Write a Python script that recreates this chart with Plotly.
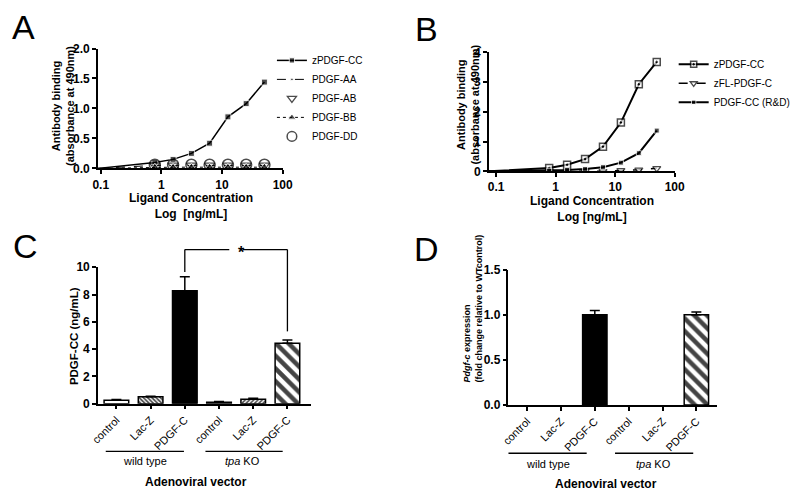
import plotly.graph_objects as go

# ---------------- data ----------------
conc = [0.09, 0.78, 1.56, 3.125, 6.25, 12.5, 25, 50]
conc_b = [0.076, 0.78, 1.56, 3.125, 6.25, 12.5, 25, 50]

a_names = ["zPDGF-CC", "PDGF-AA", "PDGF-AB", "PDGF-BB", "PDGF-DD"]
a_zpdgfcc = [0.0, 0.10, 0.15, 0.25, 0.42, 0.86, 1.08, 1.44]
a_pdgfaa = [0.0, 0.05, 0.05, 0.05, 0.05, 0.05, 0.05, 0.05]
a_pdgfab = [0.0, 0.05, 0.05, 0.05, 0.05, 0.05, 0.05, 0.05]
a_pdgfbb = [0.0, 0.02, 0.02, 0.02, 0.02, 0.02, 0.02, 0.02]
a_pdgfdd = [0.0, 0.06, 0.06, 0.06, 0.06, 0.06, 0.06, 0.06]

b_names = ["zPDGF-CC", "zFL-PDGF-C", "PDGF-CC (R&D)"]
b_zpdgfcc = [0.0, 0.11, 0.22, 0.41, 0.83, 1.64, 2.93, 3.68]
b_zfl = [0.0, 0.0, 0.0, 0.0, 0.0, 0.03, 0.05, 0.10]
b_rd = [0.0, 0.02, 0.04, 0.08, 0.14, 0.29, 0.61, 1.37]

log_ticks = [0.1, 1, 10, 100]
log_ticktext = ["0.1", "1", "10", "100"]

bar_labels = ["control", "Lac-Z", "PDGF-C", "control", "Lac-Z", "PDGF-C"]
groups = ["wild type", "<i>tpa</i> KO"]
c_vals = [0.25, 0.50, 8.27, 0.10, 0.33, 4.42]
c_err = [0.05, 0.04, 1.03, 0.06, 0.07, 0.25]
d_vals = [None, None, 1.0, None, None, 1.0]
d_err = [0.0, 0.0, 0.045, 0.0, 0.0, 0.03]

# ---------------- layout helpers ----------------
W, H = 800, 504
FONT = "Liberation Sans, Arial, sans-serif"


def fx(p):
    return p / W


def fy(p):
    return 1 - p / H


xpos = list(range(len(bar_labels)))

fig = go.Figure()

# ---------------- Panel A ----------------
mk0 = lambda s: [0] + [s] * (len(conc) - 1)
fig.add_trace(go.Scatter(x=conc, y=a_zpdgfcc, name=a_names[0], mode="lines+markers",
                         line=dict(color="black", width=1.5),
                         marker=dict(symbol="square", size=mk0(6), color="black"),
                         xaxis="x", yaxis="y", legend="legend"))
fig.add_trace(go.Scatter(x=conc, y=a_pdgfaa, name=a_names[1], mode="lines+markers",
                         line=dict(color="black", width=1, dash="dash"),
                         marker=dict(symbol="circle", size=mk0(3), color="black"),
                         xaxis="x", yaxis="y", legend="legend"))
fig.add_trace(go.Scatter(x=conc, y=a_pdgfab, name=a_names[2], mode="markers",
                         marker=dict(symbol="triangle-down-open", size=mk0(9), color="black",
                                     line=dict(width=1.3)),
                         xaxis="x", yaxis="y", legend="legend"))
fig.add_trace(go.Scatter(x=conc, y=a_pdgfbb, name=a_names[3], mode="lines+markers",
                         line=dict(color="black", width=1, dash="dot"),
                         marker=dict(symbol="triangle-up", size=mk0(8), color="black"),
                         xaxis="x", yaxis="y", legend="legend"))
fig.add_trace(go.Scatter(x=conc, y=a_pdgfdd, name=a_names[4], mode="markers",
                         marker=dict(symbol="circle-open", size=mk0(11), color="black",
                                     line=dict(width=1.5)),
                         xaxis="x", yaxis="y", legend="legend"))

# ---------------- Panel B ----------------
mkb = lambda s: [0] + [s] * (len(conc_b) - 1)
fig.add_trace(go.Scatter(x=conc_b, y=b_zpdgfcc, name=b_names[0], mode="lines+markers",
                         line=dict(color="black", width=2),
                         marker=dict(symbol="square-dot", size=mkb(7), color="white",
                                     line=dict(color="black", width=1.5)),
                         xaxis="x2", yaxis="y2", legend="legend2"))
fig.add_trace(go.Scatter(x=conc_b, y=b_zfl, name=b_names[1], mode="lines+markers",
                         line=dict(color="black", width=1.5, dash="dash"),
                         marker=dict(symbol="triangle-down", size=mkb(7), color="white",
                                     line=dict(color="black", width=1.3)),
                         xaxis="x2", yaxis="y2", legend="legend2"))
fig.add_trace(go.Scatter(x=conc_b, y=b_rd, name=b_names[2], mode="lines+markers",
                         line=dict(color="black", width=2),
                         marker=dict(symbol="square", size=mkb(5), color="black"),
                         xaxis="x2", yaxis="y2", legend="legend2"))

# ---------------- Panel C / D bars ----------------
pat_shapes = ["", "\\", "", "", "/", "\\"]
pat_sizes = [4, 3, 4, 4, 3, 9]
pat_solid = [0.3, 0.55, 0.3, 0.3, 0.5, 0.5]
bar_fill = ["white", "white", "black", "white", "white", "white"]

for vals, errs, xa, ya in [(c_vals, c_err, "x3", "y3"), (d_vals, d_err, "x4", "y4")]:
    fig.add_trace(go.Bar(x=xpos, y=vals, width=0.72, xaxis=xa, yaxis=ya, showlegend=False,
                         marker=dict(color=bar_fill, line=dict(color="black", width=1.5),
                                     pattern=dict(shape=pat_shapes, size=pat_sizes,
                                                  solidity=pat_solid, fgcolor="black",
                                                  fgopacity=1, fillmode="overlay")),
                         error_y=dict(type="data", array=errs, arrayminus=[0] * len(errs),
                                      symmetric=False, color="black", thickness=1.5, width=5)))

# ---------------- axes ----------------
axis_common = dict(showline=True, linecolor="black", linewidth=1.5, ticks="outside",
                   ticklen=4, tickwidth=1.5, tickcolor="black", showgrid=False,
                   zeroline=False, mirror=False,
                   tickfont=dict(family=FONT, size=12, color="black", weight="bold"))
cat_font = dict(family=FONT, size=11, color="black")

domA_x = [fx(92), fx(281)]
domB_x = [fx(492), fx(682)]
domC_x = [fx(92), fx(310)]
domD_x = [fx(512), fx(725)]
rngC_x = [-0.54, 5.69]
rngC_y = [0, 10]
domC_y = [fy(408), fy(267.7)]

fig.update_layout(
    xaxis=dict(axis_common, type="log", range=[-1.046, 2.0], domain=domA_x, anchor="y",
               tickvals=log_ticks, ticktext=log_ticktext),
    yaxis=dict(axis_common, range=[0, 2.0], dtick=0.5, tickformat=".1f",
               domain=[fy(166), fy(42.7)], anchor="x"),
    xaxis2=dict(axis_common, type="log", range=[-1.12, 2.0], domain=domB_x, anchor="y2",
                tickvals=log_ticks, ticktext=log_ticktext),
    yaxis2=dict(axis_common, range=[0, 4], dtick=1, domain=[fy(169), fy(46.7)], anchor="x2"),
    xaxis3=dict(axis_common, range=rngC_x, domain=domC_x, anchor="y3", tickvals=xpos,
                ticktext=bar_labels, tickangle=-45, tickfont=cat_font),
    yaxis3=dict(axis_common, range=rngC_y, dtick=2, domain=domC_y, anchor="x3"),
    xaxis4=dict(axis_common, range=[-0.55, 5.6], domain=domD_x, anchor="y4", tickvals=xpos,
                ticktext=bar_labels, tickangle=-45, tickfont=cat_font),
    yaxis4=dict(axis_common, range=[0, 1.5], dtick=0.5, tickformat=".1f",
                domain=[fy(409.3), fy(270)], anchor="x4"),
)

legend_common = dict(font=dict(family=FONT, size=10, color="black"), bgcolor="rgba(0,0,0,0)",
                     xanchor="left", yanchor="top", itemwidth=30, tracegroupgap=0,
                     itemsizing="trace")
fig.update_layout(
    legend=dict(legend_common, x=fx(270), y=fy(40)),
    legend2=dict(legend_common, x=fx(681), y=fy(44)),
)

# ---------------- annotations ----------------
ann = []


def text(x, y, s, size=11, bold=False, angle=0, align="center", xanchor="center"):
    ann.append(dict(x=fx(x), y=fy(y), xref="paper", yref="paper", text=s, showarrow=False,
                    textangle=angle, align=align, xanchor=xanchor, yanchor="middle",
                    font=dict(family=FONT, size=size, color="black",
                              weight="bold" if bold else "normal")))


# panel letters
for lx, ly, L in [(16, 21, "A"), (428, 23, "B"), (18, 246, "C"), (428, 249, "D")]:
    text(lx, ly, L, size=34)

# axis titles
text(56, 102, "Antibody binding<br>(absorbance at 490nm)", size=11, bold=True, angle=-90)
text(187, 205, "Ligand Concentration<br>Log  [ng/mL]", size=12, bold=True)
text(471, 100, "Antibody binding<br>(absorbance at 490nm)", size=11, bold=True, angle=-90)
text(597, 208, "Ligand Concentration<br>Log [ng/mL]", size=12, bold=True)
text(67, 338, "PDGF-CC (ng/mL)", size=11.5, bold=True, angle=-90)
ann.append(dict(x=fx(476), y=fy(388), xref="paper", yref="paper",
                text="<i>Pdgf-c</i> expression<br>(fold change relative to WTcontrol)",
                showarrow=False, textangle=-90, align="left", xanchor="center",
                yanchor="bottom",
                font=dict(family=FONT, size=9, color="black", weight="bold")))

# group labels
text(140, 467, groups[0], size=11)
text(240, 467, groups[1], size=11)
text(192, 489, "Adenoviral vector", size=12, bold=True)
text(552, 470, groups[0], size=11)
text(660, 470, groups[1], size=11)
text(612, 491, "Adenoviral vector", size=12, bold=True)

shapes = []


def hline(x0, x1, y, w=1.3):
    shapes.append(dict(type="line", xref="paper", yref="paper", x0=fx(x0), x1=fx(x1),
                       y0=fy(y), y1=fy(y), line=dict(color="black", width=w)))


hline(100, 180, 457)
hline(202, 281, 457)
hline(512, 592, 459)
hline(621, 701, 459)


# significance bracket (panel C), data coords -> paper
def cxp(v):
    return domC_x[0] + (v - rngC_x[0]) / (rngC_x[1] - rngC_x[0]) * (domC_x[1] - domC_x[0])


def cyp(v):
    return domC_y[0] + (v - rngC_y[0]) / (rngC_y[1] - rngC_y[0]) * (domC_y[1] - domC_y[0])


br_top, br_left_bot, br_right_bot = 11.3, 9.65, 5.3
br_left, br_right, gap0, gap1 = 2, 5, 3.3, 3.7
for (x0, y0, x1, y1) in [(br_left, br_left_bot, br_left, br_top),
                         (br_left, br_top, gap0, br_top),
                         (gap1, br_top, br_right, br_top),
                         (br_right, br_top, br_right, br_right_bot)]:
    shapes.append(dict(type="line", xref="paper", yref="paper", x0=cxp(x0), x1=cxp(x1),
                       y0=cyp(y0), y1=cyp(y1), line=dict(color="black", width=1.3)))
ann.append(dict(x=cxp(3.5), y=cyp(br_top), xref="paper", yref="paper", text="*",
                showarrow=False, yanchor="middle", yshift=-3,
                font=dict(family=FONT, size=16, color="black", weight="bold")))

fig.update_layout(
    width=W, height=H, margin=dict(l=0, r=0, t=0, b=0),
    paper_bgcolor="white", plot_bgcolor="white",
    font=dict(family=FONT, color="black"),
    annotations=ann, shapes=shapes, bargap=0.3,
)

fig.write_html("out.html", config={"displayModeBar": False},
               post_script="document.body.style.margin='0';")
